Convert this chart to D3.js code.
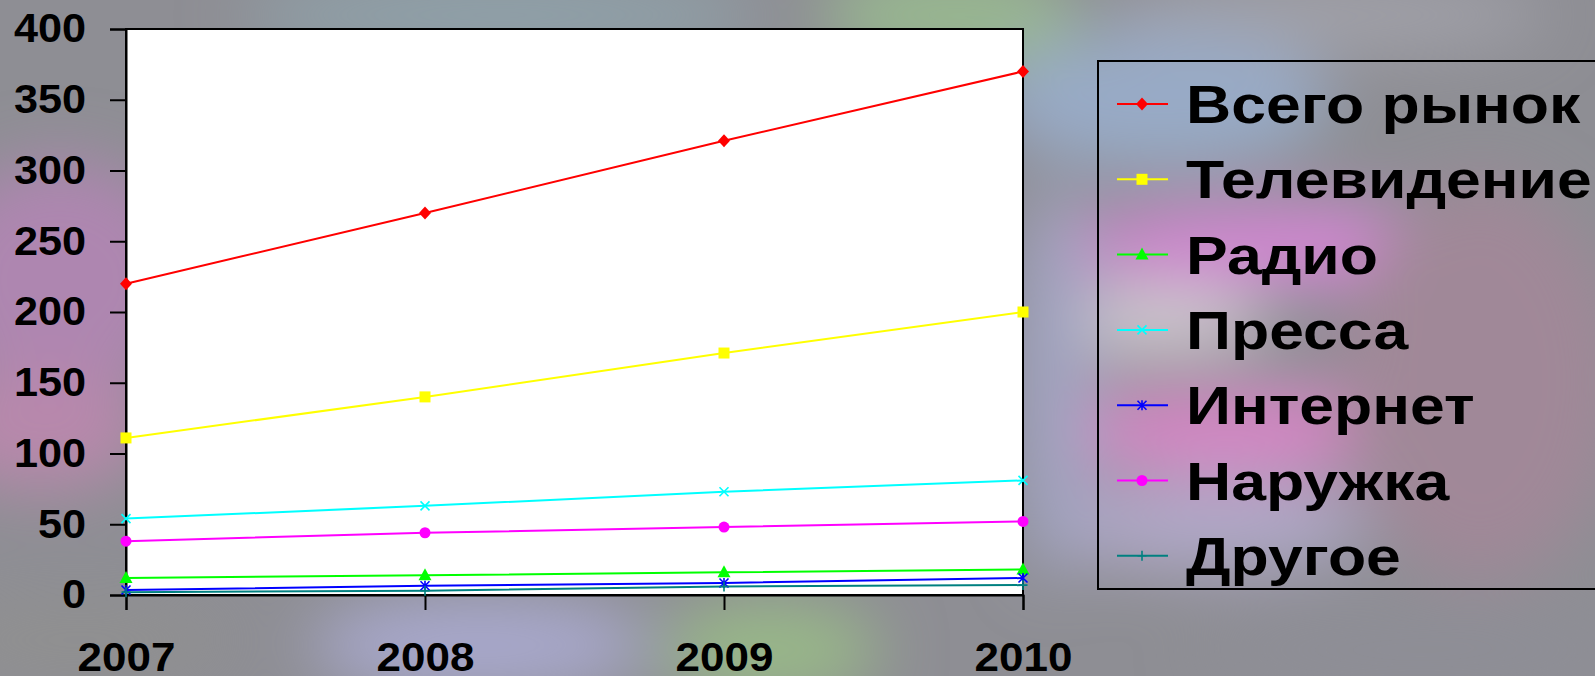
<!DOCTYPE html>
<html>
<head>
<meta charset="utf-8">
<script src="https://cdn.jsdelivr.net/npm/d3@7"></script>
<style>
  html, body { margin: 0; padding: 0; overflow: hidden; background: #8e8e94; }
  svg { display: block; }
  text { font-family: "Liberation Sans", Arial, sans-serif; font-weight: bold; fill: #000; }
</style>
</head>
<body>
<svg id="chart" width="1595" height="676"></svg>
<script>
// data
const years = ['2007', '2008', '2009', '2010'];
const seriesNames = ['Всего рынок', 'Телевидение', 'Радио', 'Пресса', 'Интернет', 'Наружка', 'Другое'];
const totalMarket = [220, 270, 321, 370];
const television = [111, 140, 171, 200];
const radio = [12, 14, 16, 18];
const press = [54, 63, 73, 81];
const internet = [3.5, 6.5, 8.5, 12];
const outdoor = [38, 44, 48, 52];
const other = [2, 3, 6, 7];
const yTicks = [0, 50, 100, 150, 200, 250, 300, 350, 400];

const seriesValues = [totalMarket, television, radio, press, internet, outdoor, other];
const seriesColors = ['#ff0000', '#ffff00', '#00ff00', '#00ffff', '#0000ff', '#ff00ff', '#008080'];
const seriesMarkers = ['diamond', 'square', 'triangle', 'x', 'asterisk', 'circle', 'plus'];

const svg = d3.select('#chart');

// blurry photo-like background
const blobs = [
  [60, 280, 130, 120, '#ae86b0'], [40, 430, 110, 60, '#b888ac'],
  [500, 15, 260, 40, '#8fa2aa'], [950, 15, 130, 50, '#98b890'],
  [1330, 15, 220, 40, '#a0a0a8'], [1160, 100, 170, 70, '#98aac6'],
  [1280, 245, 220, 40, '#d486d4'], [1150, 320, 120, 30, '#d8d0d8'],
  [1240, 430, 200, 45, '#d486c4'], [1480, 380, 140, 200, '#a08898'],
  [1210, 525, 160, 45, '#b0a8c8'], [480, 645, 170, 50, '#a8a8cc'],
  [770, 650, 110, 50, '#98b888'], [1055, 380, 40, 200, '#a2a4c2'],
  [1420, 650, 220, 40, '#8e8e96'], [80, 640, 150, 40, '#909090']
];
const defs = svg.append('defs');
defs.append('filter').attr('id', 'blur')
  .attr('x', '-50%').attr('y', '-50%').attr('width', '200%').attr('height', '200%')
  .append('feGaussianBlur').attr('stdDeviation', 32);
const bg = svg.append('g');
bg.append('rect').attr('width', 1595).attr('height', 676).attr('fill', '#8e8e94');
bg.append('g').attr('filter', 'url(#blur)')
  .selectAll('ellipse').data(blobs).enter().append('ellipse')
    .attr('cx', d => d[0]).attr('cy', d => d[1])
    .attr('rx', d => d[2]).attr('ry', d => d[3])
    .attr('fill', d => d[4]);

// scales
const x = d3.scalePoint().domain(years).range([126, 1023]);
const y = d3.scaleLinear().domain([0, 400]).range([595, 29]);

// plot area
svg.append('rect')
  .attr('x', x.range()[0]).attr('y', y(400))
  .attr('width', x.range()[1] - x.range()[0]).attr('height', y(0) - y(400))
  .attr('fill', '#fff').attr('stroke', '#000').attr('stroke-width', 2);

// axes (labels are a bit wider than the installed font, so stretch them)
const yAxis = svg.append('g')
  .attr('transform', `translate(${x.range()[0]},0)`)
  .call(d3.axisLeft(y).tickValues(yTicks).tickSize(16).tickPadding(24));
yAxis.select('.domain').attr('stroke-width', 2);
yAxis.selectAll('.tick line').attr('stroke-width', 2);
yAxis.selectAll('text')
  .attr('x', 0)
  .attr('transform', 'translate(-40,0) scale(1.08,1)')
  .style('font-size', '40px').attr('fill', '#000');

const xAxis = svg.append('g')
  .attr('transform', `translate(0,${y(0)})`)
  .call(d3.axisBottom(x).tickSize(15).tickPadding(33));
xAxis.select('.domain').attr('stroke-width', 2);
xAxis.selectAll('.tick line').attr('stroke-width', 2);
xAxis.selectAll('text')
  .attr('transform', 'scale(1.1,1)')
  .style('font-size', '40px').attr('fill', '#000');

// marker helper
function drawMarker(g, type, color) {
  if (type === 'diamond') {
    g.append('path').attr('d', 'M0,-6.5L6,0L0,6.5L-6,0Z').attr('fill', color);
  } else if (type === 'square') {
    g.append('rect').attr('x', -5.5).attr('y', -5.5).attr('width', 11).attr('height', 11).attr('fill', color);
  } else if (type === 'triangle') {
    g.append('path').attr('d', 'M0,-7L6.5,5L-6.5,5Z').attr('fill', color);
  } else if (type === 'circle') {
    g.append('circle').attr('r', 5.5).attr('fill', color);
  } else if (type === 'x') {
    g.append('path').attr('d', 'M-4.5,-4.5L4.5,4.5M-4.5,4.5L4.5,-4.5')
      .attr('stroke', color).attr('stroke-width', 1.6).attr('fill', 'none');
  } else if (type === 'asterisk') {
    g.append('path').attr('d', 'M-4.5,-4.5L4.5,4.5M-4.5,4.5L4.5,-4.5M0,-5L0,5')
      .attr('stroke', color).attr('stroke-width', 1.6).attr('fill', 'none');
  } else if (type === 'plus') {
    g.append('path').attr('d', 'M-4.5,0L4.5,0M0,-5L0,5')
      .attr('stroke', color).attr('stroke-width', 1.6).attr('fill', 'none');
  }
}

// lines and markers
const line = d3.line().x((d, i) => x(years[i])).y(d => y(d));
const lines = svg.append('g');
seriesValues.forEach((vals, s) => {
  lines.append('path')
    .attr('d', line(vals))
    .attr('fill', 'none')
    .attr('stroke', seriesColors[s])
    .attr('stroke-width', 2);
});
seriesValues.forEach((vals, s) => {
  lines.selectAll(null)
    .data(vals)
    .enter()
    .append('g')
      .attr('transform', (d, i) => `translate(${x(years[i])},${y(d)})`)
      .each(function() { drawMarker(d3.select(this), seriesMarkers[s], seriesColors[s]); });
});

// legend
const legend = svg.append('g');
legend.append('rect')
  .attr('x', 1098).attr('y', 61).attr('width', 520).attr('height', 528)
  .attr('fill', 'none').attr('stroke', '#000').attr('stroke-width', 2);
const rows = legend.selectAll('g.row')
  .data(seriesNames)
  .enter()
  .append('g')
    .attr('class', 'row')
    .attr('transform', (d, i) => `translate(0,${104 + i * 75.3})`);
rows.append('line')
  .attr('x1', 1117).attr('x2', 1168)
  .attr('stroke', (d, i) => seriesColors[i]).attr('stroke-width', 2);
rows.append('g')
  .attr('transform', 'translate(1142,0)')
  .each(function(d, i) { drawMarker(d3.select(this), seriesMarkers[i], seriesColors[i]); });
rows.append('text')
  .attr('transform', 'translate(1186,19) scale(1.18,1)')
  .style('font-size', '53px')
  .text(d => d);
</script>
</body>
</html>
